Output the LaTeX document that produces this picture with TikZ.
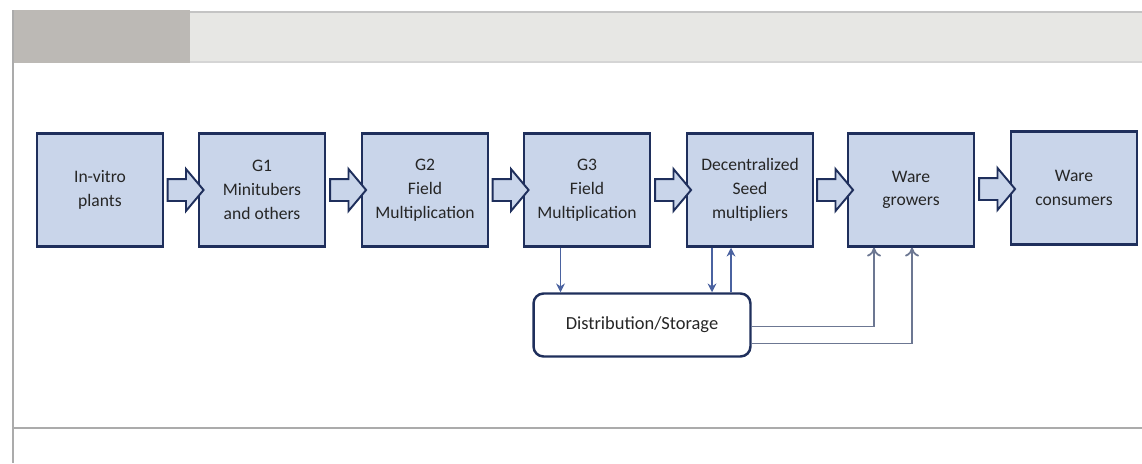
\documentclass[tikz,border=0pt]{standalone}
\usepackage{fontspec}
\setmainfont{Carlito}
\usetikzlibrary{shapes.arrows,arrows.meta}

\definecolor{boxblue}{HTML}{C9D5EA}
\definecolor{boxline}{HTML}{1F2F5C}
\definecolor{flowline}{HTML}{4A62A0}
\definecolor{feedline}{HTML}{6C7792}
\definecolor{tabgray}{HTML}{BCB9B5}
\definecolor{bandgray}{HTML}{E7E7E4}
\definecolor{framegray}{HTML}{ABABAB}

\tikzset{
  stage/.style={draw=boxline,line width=1.4pt,fill=boxblue,minimum width=2.52cm,minimum height=2.26cm,
    align=center,inner sep=2pt,text=black!85,font=\fontsize{10}{13.5}\selectfont},
  fatarrow/.style={single arrow,draw=boxline,line width=1.1pt,fill=boxblue,inner xsep=0pt,inner ysep=0.2cm,
    single arrow head extend=0.2cm,single arrow tip angle=100,minimum height=0.72cm},
  store/.style={draw=boxline,line width=1.4pt,fill=white,rounded corners=0.2cm,minimum width=4.34cm,
    minimum height=1.26cm,text=black!85,font=\fontsize{10.5}{12}\selectfont},
  flow/.style={draw=flowline,line width=1pt,-{Stealth[length=5pt,width=5pt]}},
  feed/.style={draw=feedline,line width=1pt,-{To[length=5pt,width=8pt]}}
}

\begin{document}
\begin{tikzpicture}[x=0.02cm,y=-0.02cm]
  \useasboundingbox (0,0) rectangle (1142,463);
  % window frame
  \fill[bandgray] (190,12) rectangle (1142,63);
  \draw[framegray!70,line width=0.8pt] (190,12) -- (1142,12);
  \draw[framegray!50,line width=0.6pt] (190,62) -- (1142,62);
  \fill[tabgray] (13,10) rectangle (190,63);
  \draw[framegray,line width=1.2pt] (13,10) -- (13,463);
  \draw[framegray,line width=1.5pt] (13,428) -- (1142,428);

  % stages
  \foreach \x/\txt [count=\i] in {100/{In-vitro\\plants},262/{G1\\Minitubers\\and others},
      425/{G2\\Field\\Multiplication},587/{G3\\Field\\Multiplication},
      750/{Decentralized\\Seed\\multipliers},911/{Ware\\growers}}
    \node[stage] (b\i) at (\x,190) {\txt};
  \node[stage] (b7) at (1074,188) {Ware\\consumers};

  \foreach \i in {1,...,6} {
    \pgfmathtruncatemacro\j{\i+1}
    \path (b\i) -- node[fatarrow] (a\i) {} (b\j);
  }

  % distribution
  \node[store] (ds) at (642,325) {Distribution/Storage};
  \draw[flow] ([xshift=-0.53cm]b4.south) -- ([xshift=-0.53cm]b4.south |- ds.north);
  \draw[flow] ([xshift=-0.76cm]b5.south) -- ([xshift=-0.76cm]b5.south |- ds.north);
  \draw[flow] ([xshift=-0.38cm]b5.south |- ds.north) -- ([xshift=-0.38cm]b5.south);
  \draw[feed] ([yshift=-0.03cm]ds.east) -| ([xshift=-0.74cm]b6.south);
  \draw[feed] ([yshift=-0.37cm]ds.east) -| ([xshift=0.02cm]b6.south);
\end{tikzpicture}
\end{document}
